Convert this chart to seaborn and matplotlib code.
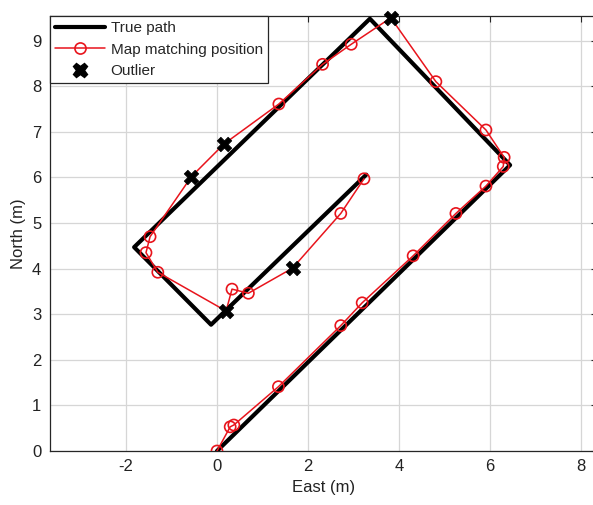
import matplotlib
matplotlib.use("Agg")
import matplotlib.pyplot as plt
import seaborn as sns
import pandas as pd
from matplotlib.lines import Line2D

# ---- data ----
true_east = [0.00, 6.44, 3.36, -1.82, -0.13, 3.28]
true_north = [0.00, 6.27, 9.48, 4.47, 2.77, 6.06]

mm_east = [0.00, 0.29, 0.37, 1.35, 2.72, 3.19, 4.31, 5.25, 5.91, 6.29, 6.31, 5.91,
           4.81, 3.82, 2.95, 2.32, 1.36, 0.15, -0.56, -1.47, -1.56, -1.30, 0.20,
           0.33, 0.69, 1.66, 2.72, 3.23]
mm_north = [0.00, 0.53, 0.57, 1.41, 2.75, 3.25, 4.28, 5.21, 5.81, 6.24, 6.44, 7.04,
            8.10, 9.50, 8.92, 8.48, 7.61, 6.73, 6.02, 4.70, 4.35, 3.92, 3.07,
            3.55, 3.46, 4.01, 5.21, 5.97]
outlier_idx = [13, 17, 18, 22, 25]

x_ticks = [-2, 0, 2, 4, 6, 8]
y_ticks = [0, 1, 2, 3, 4, 5, 6, 7, 8, 9]
legend_labels = ["True path", "Map matching position", "Outlier"]

# ---- styling ----
sns.set_style("white")
plt.rcParams['font.family'] = ['Liberation Sans', 'DejaVu Sans']

RED = "#e8141c"
AX = "#262626"

fig = plt.figure(figsize=(5.93, 5.05), dpi=100)
ax = fig.add_axes([49.5 / 593, 1 - 451 / 505, (597 - 49.5) / 593, (451 - 16) / 505])

true_df = pd.DataFrame({"East": true_east, "North": true_north, "order": range(len(true_east))})
mm_df = pd.DataFrame({"East": mm_east, "North": mm_north, "order": range(len(mm_east))})
mm_df["outlier"] = mm_df["order"].isin(outlier_idx)

sns.lineplot(data=true_df, x="East", y="North", sort=False, estimator=None,
             color="black", linewidth=3.0, ax=ax, zorder=3)
sns.lineplot(data=mm_df, x="East", y="North", sort=False, estimator=None,
             color=RED, linewidth=1.1, ax=ax, zorder=4)
normal = mm_df[~mm_df["outlier"]]
sns.scatterplot(data=normal, x="East", y="North", marker="o", s=64,
                facecolor="none", edgecolor=RED, linewidth=1.2, ax=ax, zorder=5)
outl = mm_df[mm_df["outlier"]]
sns.scatterplot(data=outl, x="East", y="North", marker="X", s=110,
                color="black", edgecolor="black", linewidth=0.5, ax=ax, zorder=6,
                clip_on=False)

ax.set_xlim(-3.68, 8.35)
ax.set_ylim(0, 9.54)
ax.set_xticks(x_ticks)
ax.set_yticks(y_ticks)
ax.set_xticklabels([f"{t}" for t in x_ticks])
ax.set_yticklabels([f"{t}" for t in y_ticks])
ax.grid(True, color="#d6d6d6", linewidth=0.9)
ax.set_axisbelow(True)
ax.tick_params(direction="in", length=4, width=0.8, colors=AX, labelsize=12,
               top=True, right=True, labelcolor="#222222", pad=6)
for sp in ax.spines.values():
    sp.set_visible(True)
    sp.set_color(AX)
    sp.set_linewidth(0.9)

ax.set_xlabel("East (m)", fontsize=12, color="#222222", labelpad=4)
ax.set_ylabel("North (m)", fontsize=12, color="#222222", labelpad=4)

handles = [
    Line2D([], [], color="black", linewidth=3.0),
    Line2D([], [], color=RED, linewidth=1.1, marker="o", markersize=8,
           markerfacecolor="none", markeredgecolor=RED, markeredgewidth=1.2),
    Line2D([], [], color="black", linestyle="none", marker="X", markersize=10.5),
]
leg = ax.legend(handles, legend_labels, loc="upper left", borderaxespad=0,
                fontsize=11, frameon=True, fancybox=False, handlelength=3.3,
                handletextpad=0.35, labelspacing=0.48, borderpad=0.35)
leg.get_frame().set_edgecolor(AX)
leg.get_frame().set_linewidth(0.9)
leg.get_frame().set_alpha(1)

fig.savefig("out.png", dpi=100)
